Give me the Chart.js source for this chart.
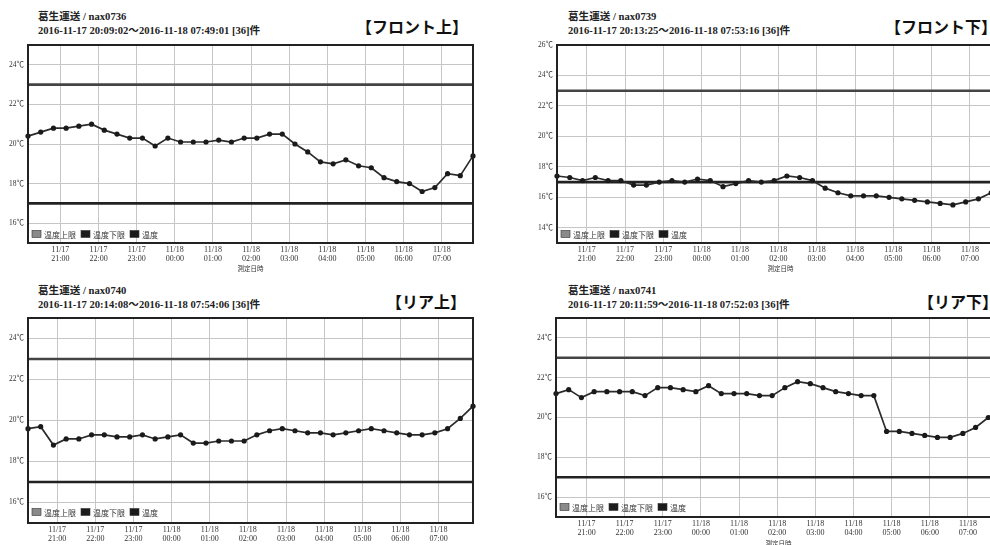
<!DOCTYPE html>
<html>
<head>
<meta charset="utf-8">
<script src="https://cdn.jsdelivr.net/npm/chart.js@4/dist/chart.umd.min.js"></script>
<style>
  html, body { margin: 0; padding: 0; background: #fff; }
  body { width: 990px; height: 545px; overflow: hidden; position: relative; }
  canvas { position: absolute; }
  .hdr {
    position: absolute; white-space: nowrap; color: #222;
    font-family: "Liberation Serif", "Noto Sans CJK JP", serif;
    font-weight: bold; font-size: 10.6px; line-height: 13.5px;
  }
  .tag {
    position: absolute; white-space: nowrap; color: #111;
    font-family: "Noto Sans CJK JP", sans-serif;
    font-weight: bold; font-size: 16px; line-height: 16px;
  }
</style>
</head>
<body>

<div class="hdr" style="left:38px;top:10px">葛生運送 / nax0736<br>2016-11-17 20:09:02～2016-11-18 07:49:01 [36]件</div>
<div class="tag" style="left:356px;top:18px">【フロント上】</div>
<canvas id="c1" width="495" height="272" style="left:0;top:0"></canvas>

<div class="hdr" style="left:568px;top:10px">葛生運送 / nax0739<br>2016-11-17 20:13:25～2016-11-18 07:53:16 [36]件</div>
<div class="tag" style="left:885px;top:18px">【フロント下】</div>
<canvas id="c2" width="530" height="272" style="left:495px;top:0"></canvas>

<div class="hdr" style="left:38px;top:284px">葛生運送 / nax0740<br>2016-11-17 20:14:08～2016-11-18 07:54:06 [36]件</div>
<div class="tag" style="left:386px;top:293px">【リア上】</div>
<canvas id="c3" width="495" height="281" style="left:0;top:272px"></canvas>

<div class="hdr" style="left:568px;top:284px">葛生運送 / nax0741<br>2016-11-17 20:11:59～2016-11-18 07:52:03 [36]件</div>
<div class="tag" style="left:918px;top:293px">【リア下】</div>
<canvas id="c4" width="530" height="275" style="left:495px;top:272px"></canvas>

<script>
// Logged temperatures (°C), one reading every 20 minutes, 36 readings per logger
const frontUpperTemps = [20.4, 20.6, 20.8, 20.8, 20.9, 21.0, 20.7, 20.5, 20.3, 20.3, 19.9, 20.3,
                         20.1, 20.1, 20.1, 20.2, 20.1, 20.3, 20.3, 20.5, 20.5, 20.0, 19.6, 19.1,
                         19.0, 19.2, 18.9, 18.8, 18.3, 18.1, 18.0, 17.6, 17.8, 18.5, 18.4, 19.4];
const frontLowerTemps = [17.4, 17.3, 17.1, 17.3, 17.1, 17.1, 16.8, 16.8, 17.0, 17.1, 17.0, 17.2,
                         17.1, 16.7, 16.9, 17.1, 17.0, 17.1, 17.4, 17.3, 17.1, 16.6, 16.3, 16.1,
                         16.1, 16.1, 16.0, 15.9, 15.8, 15.7, 15.6, 15.5, 15.7, 15.9, 16.3, 16.6];
const rearUpperTemps  = [19.6, 19.7, 18.8, 19.1, 19.1, 19.3, 19.3, 19.2, 19.2, 19.3, 19.1, 19.2,
                         19.3, 18.9, 18.9, 19.0, 19.0, 19.0, 19.3, 19.5, 19.6, 19.5, 19.4, 19.4,
                         19.3, 19.4, 19.5, 19.6, 19.5, 19.4, 19.3, 19.3, 19.4, 19.6, 20.1, 20.7];
const rearLowerTemps  = [21.2, 21.4, 21.0, 21.3, 21.3, 21.3, 21.3, 21.1, 21.5, 21.5, 21.4, 21.3,
                         21.6, 21.2, 21.2, 21.2, 21.1, 21.1, 21.5, 21.8, 21.7, 21.5, 21.3, 21.2,
                         21.1, 21.1, 19.3, 19.3, 19.2, 19.1, 19.0, 19.0, 19.2, 19.5, 20.0, 20.4];

// Measurement windows
const frontUpperSpan = ['2016-11-17 20:09:02', '2016-11-18 07:49:01'];
const frontLowerSpan = ['2016-11-17 20:13:25', '2016-11-18 07:53:16'];
const rearUpperSpan  = ['2016-11-17 20:14:08', '2016-11-18 07:54:06'];
const rearLowerSpan  = ['2016-11-17 20:11:59', '2016-11-18 07:52:03'];

// Hour ticks on the time axis
const hourLabels = [['11/17', '21:00'], ['11/17', '22:00'], ['11/17', '23:00'], ['11/18', '00:00'],
                    ['11/18', '01:00'], ['11/18', '02:00'], ['11/18', '03:00'], ['11/18', '04:00'],
                    ['11/18', '05:00'], ['11/18', '06:00'], ['11/18', '07:00']];

// Temperature axis ticks
const tempTicksStd  = [16, 18, 20, 22, 24];
const tempTicksWide = [14, 16, 18, 20, 22, 24, 26];

// Alarm limits
const upperLimit = 23;
const lowerLimit = 17;

const seriesNames = ['温度上限', '温度下限', '温度'];
const axisTitle = '測定日時';

// ---------------------------------------------------------------------------

const SERIF = '"Liberation Serif", "Noto Sans CJK JP", serif';
const SANS = '"Noto Sans CJK JP", sans-serif';

// minutes since 2016-11-17 00:00
function stampToMinutes(stamp) {
  const [d, t] = stamp.split(' ');
  const day = Number(d.split('-')[2]);
  const [h, m, s] = t.split(':').map(Number);
  return (day - 17) * 1440 + h * 60 + m + s / 60;
}
function hourLabelToMinutes(lbl) {
  const day = Number(lbl[0].split('/')[1]);
  const [h, m] = lbl[1].split(':').map(Number);
  return (day - 17) * 1440 + h * 60 + m;
}
const hourValues = hourLabels.map(hourLabelToMinutes);

// Frame around the plot area
const framePlugin = {
  id: 'frame',
  afterDatasetsDraw(chart) {
    const a = chart.chartArea, ctx = chart.ctx;
    ctx.save();
    ctx.strokeStyle = '#222';
    ctx.lineWidth = 2;
    ctx.strokeRect(a.left, a.top, a.right - a.left, a.bottom - a.top);
    ctx.restore();
  }
};

// Legend drawn inside the plot area, bottom-left
const innerLegendPlugin = {
  id: 'innerLegend',
  afterDraw(chart, args, opts) {
    const a = chart.chartArea, ctx = chart.ctx;
    const yc = a.bottom - opts.offset;
    let x = a.left + 4;
    ctx.save();
    ctx.font = '8px ' + SANS;
    ctx.textBaseline = 'middle';
    chart.data.datasets.forEach(ds => {
      ctx.fillStyle = ds.legendColor;
      ctx.fillRect(x, yc - 3.5, 9, 7);
      ctx.strokeStyle = '#333';
      ctx.lineWidth = 0.6;
      ctx.strokeRect(x, yc - 3.5, 9, 7);
      x += 12;
      ctx.fillStyle = '#333';
      ctx.fillText(ds.label, x, yc + 0.5);
      x += ctx.measureText(ds.label).width + 5;
    });
    ctx.restore();
  }
};

function makeChart(id, temps, span, yMin, yMax, yTicks, box) {
  const start = stampToMinutes(span[0]);
  const end = stampToMinutes(span[1]);
  const step = (end - start) / (temps.length - 1);
  const points = temps.map((v, i) => ({ x: start + i * step, y: v }));

  new Chart(document.getElementById(id), {
    type: 'line',
    data: {
      datasets: [
        { label: seriesNames[0], data: [{ x: start, y: upperLimit }, { x: end, y: upperLimit }],
          borderColor: '#444', borderWidth: 2.6, pointRadius: 0, legendColor: '#8a8a8a', order: 1 },
        { label: seriesNames[1], data: [{ x: start, y: lowerLimit }, { x: end, y: lowerLimit }],
          borderColor: '#222', borderWidth: 2.6, pointRadius: 0, legendColor: '#1c1c1c', order: 2 },
        { label: seriesNames[2], data: points,
          borderColor: '#2b2b2b', borderWidth: 1.7, tension: 0,
          pointRadius: 2.6, pointBackgroundColor: '#1a1a1a', pointBorderWidth: 0,
          legendColor: '#1a1a1a', order: 0, clip: 4 }
      ]
    },
    options: {
      responsive: false,
      animation: false,
      devicePixelRatio: 1,
      layout: { padding: { top: box.top, right: box.right, left: 0, bottom: 0 } },
      plugins: {
        legend: { display: false },
        tooltip: { enabled: false },
        innerLegend: { offset: box.legendOffset }
      },
      scales: {
        x: {
          type: 'linear', min: start, max: end,
          afterFit(s) { s.height = box.xHeight; },
          afterBuildTicks(s) { s.ticks = hourValues.map(v => ({ value: v })); },
          ticks: {
            autoSkip: false, maxRotation: 0, padding: 3, color: '#333',
            font: { family: SERIF, size: 8, lineHeight: 1.1 },
            callback(v) { const i = hourValues.indexOf(v); return i >= 0 ? hourLabels[i] : ''; }
          },
          grid: { color: '#c6c6c6', lineWidth: 1, drawTicks: false },
          border: { display: false },
          title: { display: true, text: axisTitle, color: '#333',
                   font: { family: SANS, size: 6.5 }, padding: { top: 0, bottom: 0 } }
        },
        y: {
          min: yMin, max: yMax,
          afterFit(s) { s.width = box.yWidth; },
          afterBuildTicks(s) { s.ticks = yTicks.map(v => ({ value: v })); },
          ticks: {
            padding: 4, color: '#333',
            font: { family: SERIF, size: 7.5 },
            callback(v) { return v + '℃'; }
          },
          grid: { color: '#c6c6c6', lineWidth: 1, drawTicks: false },
          border: { display: false }
        }
      }
    },
    plugins: [framePlugin, innerLegendPlugin]
  });
}

makeChart('c1', frontUpperTemps, frontUpperSpan, 15, 25, tempTicksStd,
          { top: 45, right: 22, yWidth: 28, xHeight: 29, legendOffset: 9 });
makeChart('c2', frontLowerTemps, frontLowerSpan, 13, 26, tempTicksWide,
          { top: 45, right: 21, yWidth: 62, xHeight: 29, legendOffset: 9 });
makeChart('c3', rearUpperTemps, rearUpperSpan, 15, 25, tempTicksStd,
          { top: 46, right: 22, yWidth: 28, xHeight: 30, legendOffset: 11 });
makeChart('c4', rearLowerTemps, rearLowerSpan, 15, 25, tempTicksStd,
          { top: 46, right: 24, yWidth: 61, xHeight: 30, legendOffset: 10 });
</script>
</body>
</html>
